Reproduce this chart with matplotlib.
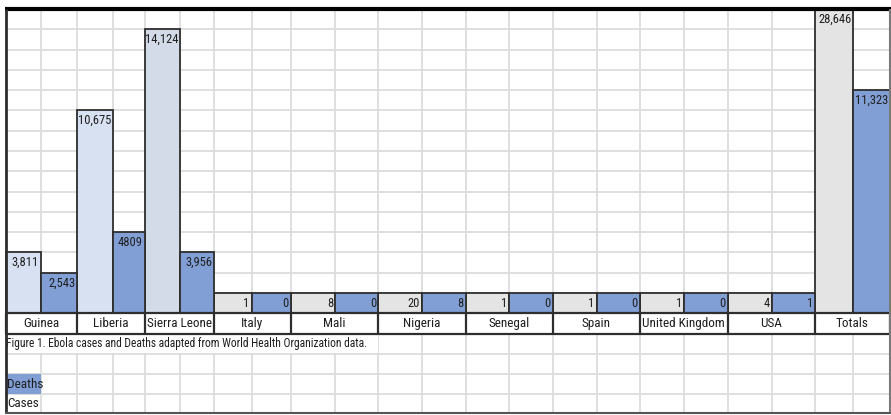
import numpy as np
import matplotlib
matplotlib.use("Agg")
import matplotlib.pyplot as plt
from matplotlib.patches import Rectangle

countries = ['Guinea', 'Liberia', 'Sierra Leone', 'Italy', 'Mali', 'Nigeria',
             'Senegal', 'Spain', 'United Kingdom', 'USA', 'Totals']
cases = [3811, 10675, 14124, 1, 8, 20, 1, 1, 1, 4, 28646]
deaths = [2543, 4809, 3956, 0, 0, 8, 0, 0, 0, 1, 11323]
case_labels = ['3,811', '10,675', '14,124', '1', '8', '20', '1', '1', '1', '4', '28,646']
death_labels = ['2,543', '4809', '3,956', '0', '0', '8', '0', '0', '0', '1', '11,323']
caption = 'Figure 1. Ebola cases and Deaths adapted from World Health Organization data.'

# spreadsheet column edges (pixels)
edges = [6, 40.7, 77.3, 113.3, 145, 180, 214, 251.7, 290.7, 335, 378.3, 421.7,
         465.7, 509.3, 552.7, 596.7, 640, 684, 727.7, 771.7, 815, 853.3, 890]

plt.rcParams['font.family'] = ['Roboto Condensed', 'Liberation Sans Narrow',
                               'Liberation Sans', 'DejaVu Sans']

BLUE = '#819fd5'
case_colors = ['#d7e1f1', '#d7e1f1', '#d3dbe8'] + ['#e4e4e4'] * 8
GRID = '#dcdcdc'
LINE = '#2e2e2e'
TXT = '#1e1e1e'
FS = 9.5
VFS = 9

fig = plt.figure(figsize=(8.91, 4.15), dpi=100)
ax = fig.add_axes([0, 0, 1, 1])
ax.set_xlim(0, 891)
ax.set_ylim(-5.012, 15.441)
ax.axis('off')

# one row of cells = 1000 cases, at least one cell filled
case_rows = np.maximum(np.floor(np.array(cases) / 1000), 1)
death_rows = np.maximum(np.floor(np.array(deaths) / 1000), 1)

# sheet grid
ax.hlines(np.arange(-4, 15), 6, 890, color=GRID, lw=1.3, zorder=1)
ax.vlines(edges, -4.9, 15, color=GRID, lw=1.3, zorder=1)

left_c = np.array(edges[0:-1:2])
left_d = np.array(edges[1:-1:2])
w_c = left_d - left_c
w_d = np.array(edges[2::2]) - left_d

ax.bar(left_c, case_rows, width=w_c, align='edge', color=case_colors,
       edgecolor=LINE, linewidth=1.3, zorder=3)
ax.bar(left_d, death_rows, width=w_d, align='edge', color=BLUE,
       edgecolor=LINE, linewidth=1.3, zorder=3)

top = 15
for i in range(len(countries)):
    ax.text(left_c[i] + w_c[i] - 2, min(case_rows[i], top) - 0.5, case_labels[i],
            ha='right', va='center', fontsize=VFS, color=TXT, zorder=4)
    ax.text(left_d[i] + w_d[i] - 2, min(death_rows[i], top) - 0.5, death_labels[i],
            ha='right', va='center', fontsize=VFS, color=TXT, zorder=4)

# country label row
ax.add_patch(Rectangle((6, -1), 884, 1, facecolor='white', edgecolor='none', zorder=4))
ax.hlines([0, -1], 6, 890, color=LINE, lw=1.6, zorder=5)
ax.vlines(edges[::2], -1, 0, color=LINE, lw=1.6, zorder=5)
for i, name in enumerate(countries):
    ax.text((edges[2 * i] + edges[2 * i + 2]) / 2, -0.5, name,
            ha='center', va='center', fontsize=FS, color=TXT, zorder=6)

# caption row (text overflow hides the grid)
ax.add_patch(Rectangle((6.5, -1.97), 371.5, 0.94, facecolor='white', edgecolor='none', zorder=4))
ax.text(6.5, -1.5, caption, ha='left', va='center', fontsize=8.3, color=TXT, zorder=6)

# legend cells
ax.add_patch(Rectangle((6, -4), 34.7, 1, facecolor=BLUE, edgecolor='none', zorder=2))
ax.text(7, -3.5, 'Deaths', ha='left', va='center', fontsize=FS, color=TXT, zorder=6)
ax.text(7, -4.45, 'Cases', ha='left', va='center', fontsize=FS, color=TXT, zorder=6)

# sheet borders
ax.add_patch(Rectangle((0, 15), 891, 1, facecolor='white', edgecolor='none', zorder=7))
ax.hlines(15, 5, 891, color='black', lw=3, zorder=8)
ax.vlines(6, -4.9, 15, color=LINE, lw=2, zorder=8)
ax.vlines(889.5, -4.9, 15, color='#7a7a7a', lw=1.5, zorder=8)
ax.hlines(-4.9, 5, 891, color='#555555', lw=1.5, zorder=8)

fig.savefig('out.png', dpi=100)
